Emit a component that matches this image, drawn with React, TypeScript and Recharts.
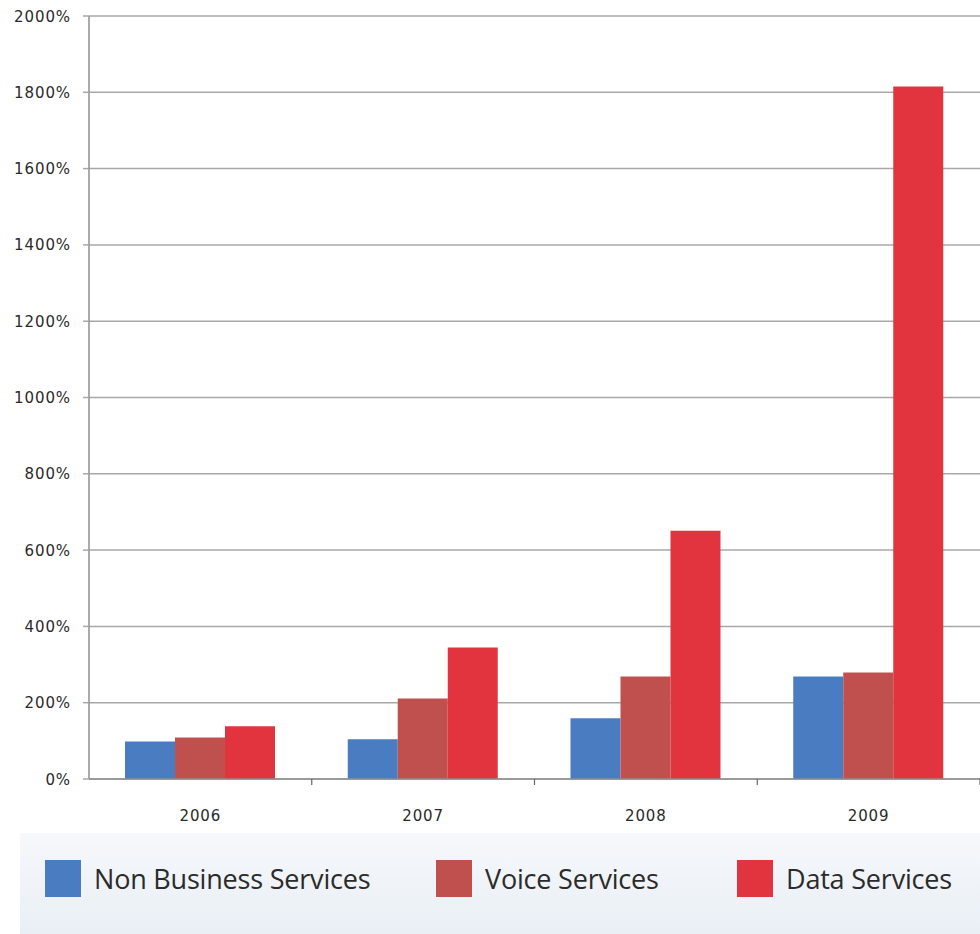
import React from "react";
import { BarChart, Bar, XAxis, YAxis, CartesianGrid, Legend } from "recharts";

const years = ["2006", "2007", "2008", "2009"];
const nonBusiness = [98, 104, 159, 269];
const voice = [109, 211, 269, 279];
const dataSvc = [138, 345, 651, 1815];
const yTicks = [0, 200, 400, 600, 800, 1000, 1200, 1400, 1600, 1800, 2000];

const seriesNames = ["Non Business Services", "Voice Services", "Data Services"];
const seriesKeys = ["nb", "voice", "data"];
const seriesColors = ["#4a7cc1", "#c0504d", "#e2343e"];

const rows = years.map((y, i) => ({
  year: y,
  nb: nonBusiness[i],
  voice: voice[i],
  data: dataSvc[i],
}));

const W = 980;
const H = 934;
const YW = 89;
const BAND = (W - YW) / years.length;
const LEGEND_ITEM_W = [391, 301, 240];

const XTick = (props: any) => {
  const { x, y, payload } = props;
  return (
    <g>
      <line x1={x + BAND / 2} x2={x + BAND / 2} y1={y} y2={y + 6} stroke="#666" strokeWidth={1.2} />
      <text
        x={x}
        y={y + 37}
        textAnchor="middle"
        dominantBaseline="middle"
        fontFamily="DejaVu Sans"
        fontSize={15}
        letterSpacing={0.9}
        fill="#2a2a2a"
      >
        {payload.value}
      </text>
    </g>
  );
};

const YTick = (props: any) => {
  const { y, payload } = props;
  return (
    <text
      x={71}
      y={y + 1}
      textAnchor="end"
      dominantBaseline="middle"
      fontFamily="DejaVu Sans"
      fontSize={15}
      letterSpacing={0.9}
      fill="#2a2a2a"
    >
      {payload.value + "%"}
    </text>
  );
};

const LegendContent = () => (
  <div
    style={{
      width: 960,
      height: 101,
      background: "linear-gradient(#f6f8fb, #e9eff5)",
      display: "flex",
      alignItems: "center",
      paddingLeft: 25,
      paddingBottom: 11,
      boxSizing: "border-box",
      fontFamily: "'Open Sans', sans-serif",
      fontSize: 27,
      letterSpacing: -0.2,
      color: "#2b2b2b",
    }}
  >
    {seriesNames.map((n, i) => (
      <div key={n} style={{ display: "flex", alignItems: "center", width: LEGEND_ITEM_W[i], flexShrink: 0 }}>
        <div style={{ width: 36, height: 37, background: seriesColors[i], marginRight: 13, flexShrink: 0 }} />
        <span style={{ whiteSpace: "nowrap" }}>{n}</span>
      </div>
    ))}
  </div>
);

export default function App() {
  return (
    <div style={{ position: "absolute", left: 0, top: 0, width: W, height: H, background: "#fff" }}>
      <BarChart
        width={W}
        height={H}
        data={rows}
        margin={{ top: 16, right: 0, left: 0, bottom: 105 }}
        barGap={0}
        barCategoryGap={36}
      >
        <CartesianGrid vertical={false} stroke="#a8a8a8" strokeWidth={1.5} />
        <XAxis
          dataKey="year"
          height={50}
          axisLine={{ stroke: "#8e8e8e", strokeWidth: 1.5 }}
          tickLine={false}
          tickSize={0}
          tickMargin={0}
          tick={<XTick />}
          interval={0}
        />
        <YAxis
          width={YW}
          domain={[0, 2000]}
          ticks={yTicks}
          interval={0}
          axisLine={{ stroke: "#8e8e8e", strokeWidth: 1.5 }}
          tickLine={{ stroke: "#a8a8a8", strokeWidth: 1.5 }}
          tickSize={6}
          tick={<YTick />}
        />
        <Legend
          verticalAlign="middle"
          layout="horizontal"
          content={<LegendContent />}
          wrapperStyle={{ top: 833, left: 20, width: 960, height: 101 }}
        />
        {seriesKeys.map((k, i) => (
          <Bar key={k} dataKey={k} name={seriesNames[i]} fill={seriesColors[i]} isAnimationActive={false} />
        ))}
      </BarChart>
    </div>
  );
}
